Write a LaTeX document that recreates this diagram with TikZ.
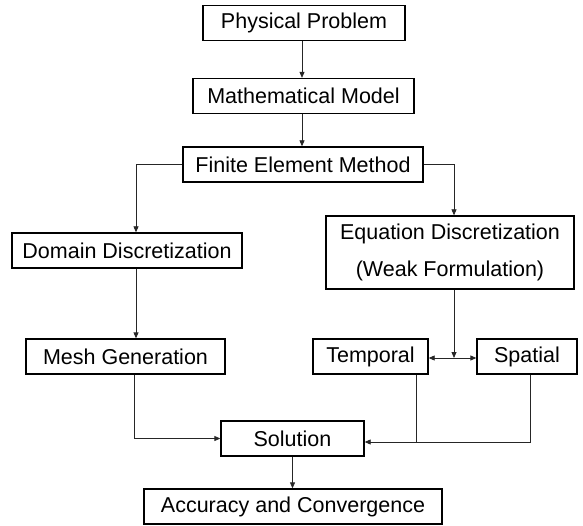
\documentclass[tikz,border=0pt]{standalone}
\usepackage{fontspec}
\setmainfont{Liberation Sans}
\usepackage{tikz}
\usetikzlibrary{positioning,arrows.meta,calc}

\begin{document}
\begin{tikzpicture}[x=1pt,y=-1pt,
          box/.style={draw,line width=1.3pt,minimum height=35pt,inner sep=0pt,
                      align=center,font=\fontsize{21.5}{37}\selectfont},
          arr/.style={black!85,line width=0.8pt,-{Triangle[length=6pt,width=5pt]}},
          wire/.style={black!85,line width=0.8pt}]
        \useasboundingbox (0,0) rectangle (583,526);
        \node[box,minimum width=202pt] (phys)     at (304,23)    {Physical Problem};
        \node[box,minimum width=221pt] (math)     at (303.5,96)  {Mathematical Model};
        \node[box,minimum width=240pt] (fem)      at (303,164.5) {Finite Element Method};
        \node[box,minimum width=230pt] (domain)   at (127,250.5) {Domain Discretization};
        \node[box,minimum width=248pt,minimum height=73pt] (eqn) at (450,252.5)
          {Equation Discretization\\(Weak Formulation)};
        \node[box,minimum width=199pt] (mesh)     at (125.5,356.5) {Mesh Generation};
        \node[box,minimum width=115pt] (temporal) at (370.5,356.5) {Temporal};
        \node[box,minimum width=100pt] (spatial)  at (527,356.5)   {Spatial};
        \node[box,minimum width=143pt] (solution) at (292.5,438.5) {Solution};
        \node[box,minimum width=298pt] (accuracy) at (293,506.5)   {Accuracy and Convergence};
        \coordinate (split) at ([xshift=4pt]eqn.south |- 0,358);
        \coordinate (solin) at ([yshift=-3.5pt]solution.east);
        \draw[arr] ([xshift=-2pt]phys.south) -- ([xshift=-2pt]phys.south |- math.north);
        \draw[arr] ([xshift=-1.5pt]math.south) -- ([xshift=-1.5pt]math.south |- fem.north);
        \draw[arr] (fem.west) -| ([xshift=9pt]domain.north);
        \draw[arr] ([xshift=9pt]domain.south) -- ([xshift=9pt]domain.south |- mesh.north);
        \draw[arr] ([xshift=8.5pt]mesh.south) |- (solution.west);
        \draw[arr] (fem.east) -| ([xshift=4pt]eqn.north);
        \draw[arr] ([xshift=4pt]eqn.south) -- (split);
        \draw[arr] (split) -- (split -| temporal.east);
        \draw[arr] (split) -- (split -| spatial.west);
        \draw[wire] ([xshift=45.5pt]temporal.south) -- ([xshift=45.5pt]temporal.south |- solin);
        \draw[arr] ([xshift=3pt]spatial.south) |- (solin);
        \draw[arr] (solution) -- (solution |- accuracy.north);
      \end{tikzpicture}
\end{document}
